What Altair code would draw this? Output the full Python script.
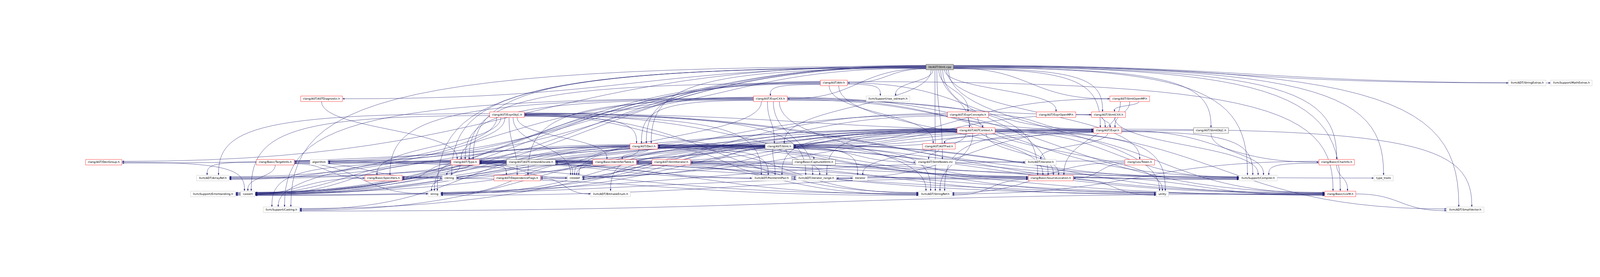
import math
from collections import defaultdict

import numpy as np
import pandas as pd
import altair as alt

# --- graph content: files and their #include edges ---
node_ids = [
    "root", "Attr", "StrExt", "MathExt",
    "ASTDiag", "ExprCXX", "rawos", "StmtOMP",
    "ExprObjC", "ExprConc", "ExprOMP", "StmtCXX",
    "ASTCtx", "Expr", "StmtObjC",
    "Decl", "Stmt", "ASTFwd",
    "DeclGroup", "TargetInfo", "algorithm", "Type", "ASTCtxAlloc", "IdentTable",
    "StmtIter", "CapStmt", "StmtNodes", "iteratorh", "Token", "CharInfo",
    "ArrayRef", "Specifiers", "cstring", "DepFlags", "cstddef", "PIP", "itrange",
    "iterator", "SrcLoc", "Compiler", "type_traits",
    "ErrH", "cassert", "string", "Bitmask", "StrRef", "utility", "LLVM",
    "Casting", "SmallVec",
]
node_labels = [
    "lib/AST/Stmt.cpp", "clang/AST/Attr.h", "llvm/ADT/StringExtras.h", "llvm/Support/MathExtras.h",
    "clang/AST/ASTDiagnostic.h", "clang/AST/ExprCXX.h", "llvm/Support/raw_ostream.h", "clang/AST/StmtOpenMP.h",
    "clang/AST/ExprObjC.h", "clang/AST/ExprConcepts.h", "clang/AST/ExprOpenMP.h", "clang/AST/StmtCXX.h",
    "clang/AST/ASTContext.h", "clang/AST/Expr.h", "clang/AST/StmtObjC.h",
    "clang/AST/Decl.h", "clang/AST/Stmt.h", "clang/AST/ASTFwd.h",
    "clang/AST/DeclGroup.h", "clang/Basic/TargetInfo.h", "algorithm", "clang/AST/Type.h",
    "clang/AST/ASTContextAllocate.h", "clang/Basic/IdentifierTable.h",
    "clang/AST/StmtIterator.h", "clang/Basic/CapturedStmt.h", "clang/AST/StmtNodes.inc",
    "llvm/ADT/iterator.h", "clang/Lex/Token.h", "clang/Basic/CharInfo.h",
    "llvm/ADT/ArrayRef.h", "clang/Basic/Specifiers.h", "cstring", "clang/AST/DependenceFlags.h",
    "cstddef", "llvm/ADT/PointerIntPair.h", "llvm/ADT/iterator_range.h",
    "iterator", "clang/Basic/SourceLocation.h", "llvm/Support/Compiler.h", "type_traits",
    "llvm/Support/ErrorHandling.h", "cassert", "string", "llvm/ADT/BitmaskEnum.h",
    "llvm/ADT/StringRef.h", "utility", "clang/Basic/LLVM.h",
    "llvm/Support/Casting.h", "llvm/ADT/SmallVector.h",
]
node_kind = [
    "root", "red", "grey", "grey",
    "red", "red", "grey", "red",
    "red", "red", "red", "red",
    "red", "red", "black",
    "red", "black", "red",
    "red", "red", "grey", "red", "black", "red",
    "red", "black", "grey", "grey", "red", "red",
    "grey", "red", "grey", "red", "grey", "grey", "grey",
    "grey", "red", "grey", "grey",
    "grey", "grey", "grey", "grey", "grey", "grey", "red",
    "grey", "grey",
]

includes = {
    "root": ["Stmt", "ASTCtx", "ASTDiag", "Attr", "Decl", "DeclGroup", "Expr", "ExprCXX",
             "ExprConc", "ExprObjC", "ExprOMP", "StmtCXX", "StmtObjC", "StmtOMP", "Type",
             "CharInfo", "LLVM", "SrcLoc", "TargetInfo", "Token", "SmallVec", "StrExt",
             "StrRef", "Casting", "Compiler", "ErrH", "MathExt", "rawos", "algorithm",
             "cassert", "cstring", "string", "type_traits", "utility", "StmtNodes"],
    "Attr": ["ASTFwd", "Decl", "Expr", "ExprCXX", "Type", "LLVM", "SrcLoc", "ErrH",
             "rawos", "algorithm", "cassert"],
    "ASTDiag": ["Type"],
    "ExprCXX": ["Decl", "DepFlags", "Expr", "Stmt", "StmtCXX", "Type", "LLVM", "SrcLoc",
                "Specifiers", "ArrayRef", "StrRef", "itrange", "Casting", "Compiler",
                "cassert", "cstddef"],
    "StmtOMP": ["Expr", "Stmt", "StmtCXX", "SrcLoc"],
    "ExprObjC": ["Decl", "DepFlags", "Expr", "Stmt", "Type", "IdentTable", "LLVM", "SrcLoc",
                 "Specifiers", "ArrayRef", "PIP", "StrRef", "itrange", "Casting", "Compiler",
                 "cassert", "cstddef"],
    "ExprConc": ["ASTCtx", "Decl", "Expr", "Type", "SrcLoc", "utility", "string"],
    "ExprOMP": ["Expr"],
    "StmtCXX": ["Expr", "Stmt", "Compiler"],
    "ASTCtx": ["ASTCtxAlloc", "ASTFwd", "Decl", "Type", "IdentTable", "LLVM", "SrcLoc",
               "Specifiers", "TargetInfo", "ArrayRef", "PIP", "SmallVec", "StrRef", "itrange",
               "Casting", "Compiler", "cassert", "cstddef", "iterator", "string", "utility"],
    "Expr": ["Decl", "DepFlags", "Stmt", "Type", "CharInfo", "SmallVec", "StrRef",
             "iteratorh", "itrange", "Compiler"],
    "StmtObjC": ["Stmt", "Compiler"],
    "Decl": ["ASTCtxAlloc", "Type", "IdentTable", "LLVM", "SrcLoc", "Specifiers", "ArrayRef",
             "PIP", "StrRef", "itrange", "Casting", "Compiler", "cassert", "cstddef",
             "string", "utility"],
    "Stmt": ["DeclGroup", "DepFlags", "StmtIter", "CapStmt", "IdentTable", "LLVM", "SrcLoc",
             "ArrayRef", "Bitmask", "PIP", "StrRef", "iteratorh", "itrange", "Casting",
             "Compiler", "ErrH", "algorithm", "cassert", "cstddef", "iterator", "string",
             "StmtNodes"],
    "ASTFwd": ["StmtNodes"],
    "DeclGroup": ["cassert"],
    "TargetInfo": ["LLVM", "Specifiers", "ArrayRef", "StrRef", "cassert", "string", "cstring"],
    "Type": ["DepFlags", "LLVM", "SrcLoc", "Specifiers", "ArrayRef", "PIP", "StrRef",
             "itrange", "Casting", "Compiler", "ErrH", "cassert", "cstddef", "cstring",
             "string", "type_traits", "utility"],
    "ASTCtxAlloc": ["cstddef"],
    "IdentTable": ["LLVM", "StrRef", "cassert", "cstddef", "cstring", "string", "utility"],
    "StmtIter": ["Compiler", "cassert", "cstddef", "iterator"],
    "Token": ["SrcLoc", "StrRef", "cassert"],
    "CharInfo": ["LLVM", "StrRef", "Compiler"],
    "Specifiers": ["StrRef", "ErrH"],
    "DepFlags": ["Bitmask"],
    "SrcLoc": ["LLVM", "StrRef", "cassert", "string", "utility"],
    "LLVM": ["Casting", "SmallVec"],
}

# --- layout (pixels) ---
rank_y = [18.0, 92.7, 167.4, 242.1, 316.8, 391.5, 466.2, 540.9, 615.6, 690.3]
node_rank = [0, 1, 1, 1,
             2, 2, 2, 2,
             3, 3, 3, 3,
             4, 4, 4,
             5, 5, 5,
             6, 6, 6, 6, 6, 6, 6, 6, 6, 6, 6, 6,
             7, 7, 7, 7, 7, 7, 7, 7, 7, 7, 7,
             8, 8, 8, 8, 8, 8, 8,
             9, 9]
node_x = [4421, 3922, 7189, 7397,
          1508, 3623, 4177, 5316,
          2382, 4554, 4969, 5216,
          4592, 5212, 5699,
          3027, 3665, 4417,
          482, 1290, 1496, 2185, 2495, 2889, 3156, 3828, 4401, 4897, 5363, 6291,
          996, 1800, 2110, 2430, 2701, 3629, 3839, 4046, 4944, 5921, 6512,
          997, 1161, 2040, 2870, 4400, 5470, 6308,
          1319, 6897]

BOX_H = 26
FONT = "DejaVu Sans"
FONT_PX = 13
EDGE = "#191970"
STROKE = {"root": "#404040", "red": "#ff0000", "black": "#404040", "grey": "#bfbfbf"}
FILL = {"root": "#bfbfbf", "red": "#ffffff", "black": "#ffffff", "grey": "#ffffff"}
ARROW_L = 10

# DejaVu Sans advance widths (em), for sizing the boxes round their labels
CHAR_W = dict(zip("abcdefghijklmnopqrstuvwxyz",
                  [.613, .635, .550, .635, .615, .352, .635, .634, .278, .278, .579, .278, .974,
                   .634, .612, .635, .635, .411, .521, .392, .634, .592, .818, .592, .592, .525]))
CHAR_W.update(zip("ABCDEFGHIJKLMNOPQRSTUVWXYZ",
                  [.684, .686, .698, .770, .632, .575, .775, .752, .295, .295, .656, .557, .863,
                   .748, .787, .603, .787, .695, .635, .611, .732, .684, .989, .685, .611, .685]))
CHAR_W.update({"/": .337, ".": .318, "_": .500})


def text_px(s):
    return sum(CHAR_W.get(c, 0.6) for c in s) * FONT_PX


pos = {}
for nid, lab, r, x in zip(node_ids, node_labels, node_rank, node_x):
    pos[nid] = (x, rank_y[r], text_px(lab) + 21)

nodes = pd.DataFrame({
    "label": node_labels,
    "cx": node_x,
    "cy": [rank_y[r] for r in node_rank],
    "fill": [FILL[k] for k in node_kind],
    "stroke": [STROKE[k] for k in node_kind],
})
nodes["w"] = [pos[n][2] for n in node_ids]
nodes["x0"] = nodes.cx - nodes.w / 2
nodes["x1"] = nodes.cx + nodes.w / 2
nodes["y0"] = nodes.cy - BOX_H / 2
nodes["y1"] = nodes.cy + BOX_H / 2

# --- edge routing: ports spread along the box, cubic curves between them ---
info = []
for s, targets in includes.items():
    for t in targets:
        sx, sy, _ = pos[s]
        tx, ty, _ = pos[t]
        ratio = abs(tx - sx) / (ty - sy)
        info.append({"s": s, "t": t, "sgn": 1 if tx >= sx else -1,
                     "tail_side": ratio > 2.5, "head_side": ratio > 5.0})

tails = defaultdict(list)
heads = defaultdict(list)
for i, e in enumerate(info):
    tails[(e["s"], e["sgn"] if e["tail_side"] else 0)].append(i)
    heads[(e["t"], e["sgn"] if e["head_side"] else 0)].append(i)

for (nid, side), idx in tails.items():
    x, y, w = pos[nid]
    n = len(idx)
    if side == 0:
        idx.sort(key=lambda i: pos[info[i]["t"]][0])
        for k, i in enumerate(idx):
            info[i]["p0"] = (x - 0.35 * w + (k + 0.5) * 0.7 * w / n, y + BOX_H / 2)
            info[i]["t0"] = (0.0, 1.0)
    else:
        # the edge that travels farthest leaves highest, so the bundle does not cross
        idx.sort(key=lambda i: -abs(pos[info[i]["t"]][0] - x))
        for k, i in enumerate(idx):
            info[i]["p0"] = (x + side * w / 2, y - 9 + (k + 0.5) * 18 / n)
            info[i]["t0"] = (float(side), 0.0)

for (nid, side), idx in heads.items():
    x, y, w = pos[nid]
    n = len(idx)
    if side == 0:
        idx.sort(key=lambda i: pos[info[i]["s"]][0])
        for k, i in enumerate(idx):
            info[i]["p3"] = (x - 0.35 * w + (k + 0.5) * 0.7 * w / n, y - BOX_H / 2)
            info[i]["t1"] = (0.0, 1.0)
    else:
        idx.sort(key=lambda i: pos[info[i]["s"]][1])
        for k, i in enumerate(idx):
            info[i]["p3"] = (x - side * w / 2, y - 8 + (k + 0.5) * 16 / n)
            info[i]["t1"] = (float(side), 0.0)

ts = np.linspace(0, 1, 28)
line_rows = []
arrow_rows = []
for eid, e in enumerate(info):
    p0 = np.array(e["p0"])
    t0 = np.array(e["t0"])
    tip = np.array(e["p3"])
    t1 = np.array(e["t1"])
    p3 = tip - t1 * ARROW_L
    d = p3 - p0
    side0 = t0[1] == 0
    side1 = t1[1] == 0
    if side0 and side1:
        h0 = h1 = 0.5 * abs(d[0])
    elif side0:
        h0, h1 = 0.85 * abs(d[0]), 0.75 * abs(d[1])
    else:
        h0 = h1 = 0.5 * abs(d[1])
    p1 = p0 + t0 * h0
    p2 = p3 - t1 * h1
    for k, u in enumerate(ts):
        pt = ((1 - u) ** 3) * p0 + 3 * ((1 - u) ** 2) * u * p1 + 3 * (1 - u) * u * u * p2 + (u ** 3) * p3
        line_rows.append({"eid": eid, "k": k, "x": pt[0], "y": pt[1]})
    c = tip - t1 * ARROW_L / 2
    ang = math.degrees(math.atan2(t1[0], -t1[1])) % 360
    arrow_rows.append({"x": c[0], "y": c[1], "ang": ang})

lines = pd.DataFrame(line_rows)
arrows = pd.DataFrame(arrow_rows)

xs = alt.Scale(domain=[8, 7517], nice=False, zero=False)
ys = alt.Scale(domain=[8, 701], nice=False, zero=False, reverse=True)

edge_layer = alt.Chart(lines).mark_line(color=EDGE, strokeWidth=1.3).encode(
    x=alt.X("x:Q", scale=xs, axis=None),
    y=alt.Y("y:Q", scale=ys, axis=None),
    detail="eid:N",
    order="k:Q",
)

arrow_layer = alt.Chart(arrows).mark_point(
    shape="M0,-1L0.7,1L-0.7,1Z", filled=True, size=ARROW_L * ARROW_L,
    color=EDGE, opacity=1,
).encode(
    x=alt.X("x:Q", scale=xs, axis=None),
    y=alt.Y("y:Q", scale=ys, axis=None),
    angle=alt.Angle("ang:Q", scale=None),
)

box_layer = alt.Chart(nodes).mark_rect(strokeWidth=1.3).encode(
    x=alt.X("x0:Q", scale=xs, axis=None),
    x2="x1:Q",
    y=alt.Y("y0:Q", scale=ys, axis=None),
    y2="y1:Q",
    fill=alt.Fill("fill:N", scale=None),
    stroke=alt.Stroke("stroke:N", scale=None),
)

text_layer = alt.Chart(nodes).mark_text(
    font=FONT, fontSize=FONT_PX, color="black", align="center", baseline="middle",
).encode(
    x=alt.X("cx:Q", scale=xs, axis=None),
    y=alt.Y("cy:Q", scale=ys, axis=None),
    text="label:N",
)

chart = (
    alt.layer(edge_layer, arrow_layer, box_layer, text_layer)
    .properties(width=7509, height=693, padding=0,
                autosize=alt.AutoSizeParams(type="none"), background="white")
    .configure_view(stroke=None)
)

chart.save("out.html", embed_options={"renderer": "svg", "actions": False})
